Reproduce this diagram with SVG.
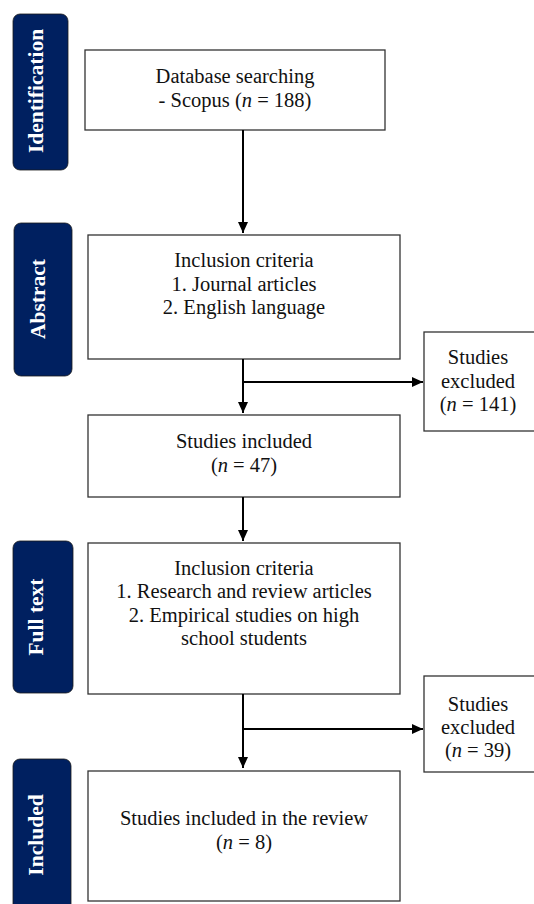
<svg xmlns="http://www.w3.org/2000/svg" width="534" height="904" viewBox="0 0 534 904">
<style>
.box{fill:#fff;stroke:#333;stroke-width:1.3}
.pill{fill:#002060;stroke:#1a1a1a;stroke-width:0.8}
.t{font-family:"Liberation Serif","Times New Roman",serif;font-size:20.5px;fill:#111;text-anchor:middle}
.pt{font-family:"Liberation Serif","Times New Roman",serif;font-size:21.5px;font-weight:bold;fill:#fff;text-anchor:middle}
.c{stroke:#000;stroke-width:2;fill:none}
.i{font-style:italic}
</style>
<defs>
<marker id="ah" markerUnits="userSpaceOnUse" markerWidth="11" markerHeight="10" refX="11" refY="5" orient="auto">
<path d="M0,0 L11,5 L0,10 z" fill="#000"/>
</marker>
</defs>
<rect width="534" height="904" fill="#fff"/>
<g id="stage-identification">
<rect class="pill" x="13" y="14" width="55" height="156" rx="7"/>
<text class="pt" transform="translate(43,91) rotate(-90)">Identification</text>
</g>
<g id="stage-abstract">
<rect class="pill" x="14" y="223" width="58" height="153" rx="7"/>
<text class="pt" transform="translate(45,299) rotate(-90)">Abstract</text>
</g>
<g id="stage-fulltext">
<rect class="pill" x="13" y="541" width="60" height="152" rx="7"/>
<text class="pt" transform="translate(43,617) rotate(-90)">Full text</text>
</g>
<g id="stage-included">
<rect class="pill" x="13" y="759" width="58" height="160" rx="7"/>
<text class="pt" transform="translate(43,835) rotate(-90)">Included</text>
</g>
<g id="node-search">
<rect class="box" x="85" y="50" width="300" height="80"/>
<text class="t" x="235" y="83">Database searching</text>
<text class="t" x="235" y="107">- Scopus (<tspan class="i">n</tspan> = 188)</text>
</g>
<g id="node-criteria1">
<rect class="box" x="88" y="235" width="312" height="124"/>
<text class="t" x="244" y="267">Inclusion criteria</text>
<text class="t" x="244" y="291">1. Journal articles</text>
<text class="t" x="244" y="314">2. English language</text>
</g>
<g id="node-excluded1">
<rect class="box" x="424" y="332" width="130" height="99"/>
<text class="t" x="478" y="364">Studies</text>
<text class="t" x="478" y="388">excluded</text>
<text class="t" x="478" y="411">(<tspan class="i">n</tspan> = 141)</text>
</g>
<g id="node-included1">
<rect class="box" x="88" y="415" width="312" height="82"/>
<text class="t" x="244" y="448">Studies included</text>
<text class="t" x="244" y="472">(<tspan class="i">n</tspan> = 47)</text>
</g>
<g id="node-criteria2">
<rect class="box" x="88" y="543" width="312" height="151"/>
<text class="t" x="244" y="575">Inclusion criteria</text>
<text class="t" x="244" y="598">1. Research and review articles</text>
<text class="t" x="244" y="622">2. Empirical studies on high</text>
<text class="t" x="244" y="645">school students</text>
</g>
<g id="node-excluded2">
<rect class="box" x="424" y="676" width="130" height="96"/>
<text class="t" x="478" y="711">Studies</text>
<text class="t" x="478" y="734">excluded</text>
<text class="t" x="478" y="757">(<tspan class="i">n</tspan> = 39)</text>
</g>
<g id="node-final">
<rect class="box" x="88" y="771" width="312" height="130"/>
<text class="t" x="244" y="825">Studies included in the review</text>
<text class="t" x="244" y="849">(<tspan class="i">n</tspan> = 8)</text>
</g>
<g id="connectors">
<line class="c" x1="243" y1="130" x2="243" y2="233" marker-end="url(#ah)"/>
<line class="c" x1="243" y1="359" x2="243" y2="413" marker-end="url(#ah)"/>
<line class="c" x1="243" y1="382" x2="423" y2="382" marker-end="url(#ah)"/>
<line class="c" x1="243" y1="497" x2="243" y2="541" marker-end="url(#ah)"/>
<line class="c" x1="243" y1="694" x2="243" y2="768" marker-end="url(#ah)"/>
<line class="c" x1="243" y1="729" x2="423" y2="729" marker-end="url(#ah)"/>
</g>
</svg>
